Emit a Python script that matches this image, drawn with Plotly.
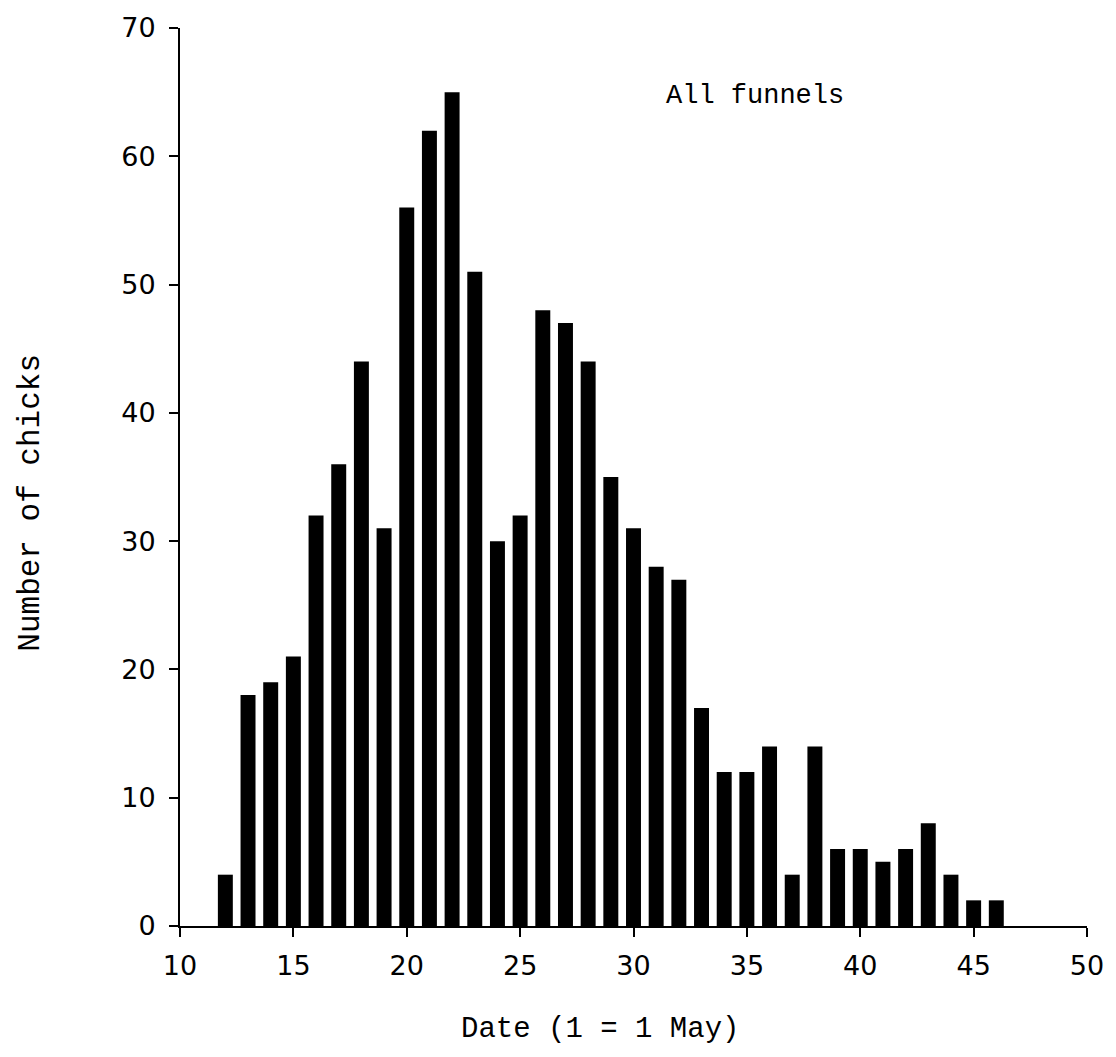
import plotly.graph_objects as go

dates = list(range(12, 47))
chicks = [4, 18, 19, 21, 32, 36, 44, 31, 56, 62, 65, 51, 30, 32, 48, 47, 44, 35,
          31, 28, 27, 17, 12, 12, 14, 4, 14, 6, 6, 5, 6, 8, 4, 2, 2]
x_ticks = [10, 15, 20, 25, 30, 35, 40, 45, 50]
y_ticks = [0, 10, 20, 30, 40, 50, 60, 70]

fig = go.Figure()
fig.add_trace(go.Bar(x=dates, y=chicks, width=0.66,
                     marker=dict(color="black", line=dict(width=0))))

tick_font = dict(family="DejaVu Sans", size=27, color="black")
mono = "Liberation Mono, Courier New, monospace"

fig.update_layout(
    width=1116, height=1057,
    margin=dict(l=180, r=24, t=24, b=131),
    plot_bgcolor="white", paper_bgcolor="white",
    showlegend=False,
    xaxis=dict(range=[10, 50], tickvals=x_ticks, ticks="outside", ticklen=9,
               tickwidth=2, tickcolor="black", showline=True, linecolor="black",
               linewidth=2, showgrid=False, zeroline=False, tickfont=tick_font,
               ticklabelstandoff=6),
    yaxis=dict(range=[0, 70], tickvals=y_ticks, ticks="outside", ticklen=9,
               tickwidth=2, tickcolor="black", showline=True, linecolor="black",
               linewidth=2, showgrid=False, zeroline=False, tickfont=tick_font,
               ticklabelstandoff=8),
    annotations=[
        dict(x=35.35, y=64.7, xref="x", yref="y", text="All funnels",
             showarrow=False, font=dict(family=mono, size=27, color="black")),
        dict(x=0.4627, y=-0.1153, xref="paper", yref="paper",
             text="Date (1 = 1 May)", showarrow=False,
             xanchor="center", yanchor="middle",
             font=dict(family=mono, size=29, color="black")),
        dict(x=-0.1645, y=0.4712, xref="paper", yref="paper",
             text="Number of chicks", showarrow=False, textangle=-90,
             xanchor="center", yanchor="middle",
             font=dict(family=mono, size=31, color="black")),
    ],
)

fig.write_html("out.html")
